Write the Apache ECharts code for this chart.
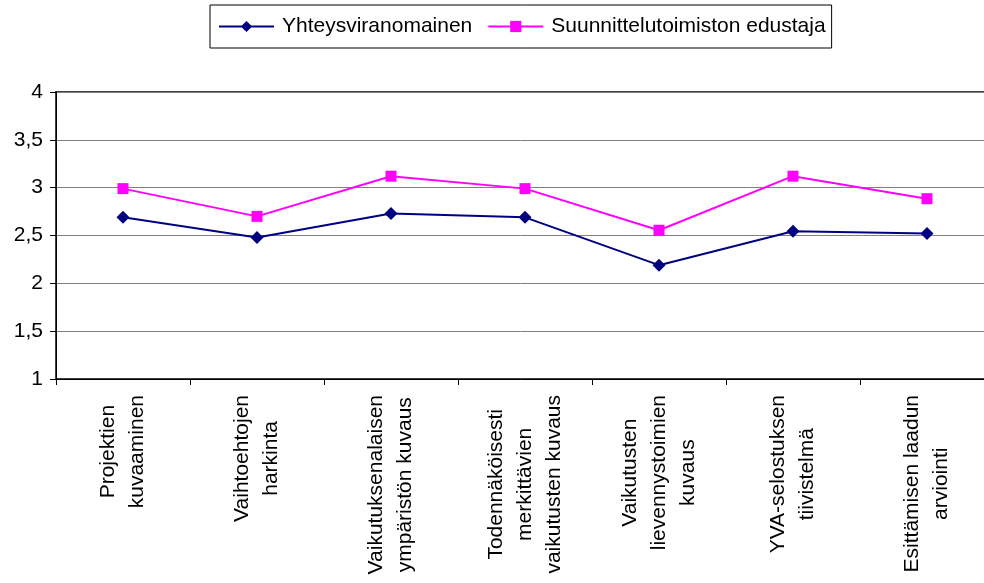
<!DOCTYPE html>
<html>
<head>
<meta charset="utf-8">
<script src="https://cdn.jsdelivr.net/npm/echarts@6/dist/echarts.min.js"></script>
<style>
html,body{margin:0;padding:0;background:#fff;}
#chart{width:984px;height:583px;}
</style>
</head>
<body>
<div id="chart"></div>
<script>
const categories = [
  'Projektien\nkuvaaminen',
  'Vaihtoehtojen\nharkinta',
  'Vaikutuksenalaisen\nympäristön kuvaus',
  'Todennäköisesti\nmerkittävien\nvaikutusten kuvaus',
  'Vaikutusten\nlievennystoimien\nkuvaus',
  'YVA-selostuksen\ntiivistelmä',
  'Esittämisen laadun\narviointi'
];
const seriesNames = ['Yhteysviranomainen', 'Suunnittelutoimiston edustaja'];
const yhteys = [2.69, 2.48, 2.73, 2.69, 2.19, 2.545, 2.52];
const suunnittelu = [2.99, 2.70, 3.12, 2.99, 2.555, 3.12, 2.885];
const yMin = 1, yMax = 4, yInterval = 0.5;

const FONT = "'Liberation Sans', Arial, sans-serif";
const chart = echarts.init(document.getElementById('chart'));
chart.setOption({
  animation: false,
  backgroundColor: '#fff',
  textStyle: { fontFamily: FONT },
  legend: {
    left: 210, top: 5,
    padding: [11, 6, 11, 8],
    borderColor: '#000', borderWidth: 1,
    itemWidth: 55, itemHeight: 14, itemGap: 15,
    textStyle: { fontSize: 21, color: '#000', fontFamily: FONT, padding: [0, 0, 0, 3] },
    data: seriesNames
  },
  grid: {
    left: 56, top: 92, width: 938, height: 287,
    outerBoundsMode: 'none', containLabel: false,
    show: true, borderColor: '#404040', borderWidth: 2, backgroundColor: 'transparent'
  },
  xAxis: {
    type: 'category',
    data: categories,
    boundaryGap: true,
    axisLine: { lineStyle: { color: '#000', width: 1 } },
    axisTick: { show: true, length: 6, lineStyle: { color: '#000' } },
    axisLabel: {
      rotate: 90, margin: 16, interval: 0, color: '#000',
      formatter: function (v) { return v.split('\n').map(function (l) { return '{c|' + l + '}'; }).join('\n'); },
      rich: { c: { align: 'center', fontSize: 21, lineHeight: 29, fontFamily: FONT, color: '#000' } }
    }
  },
  yAxis: {
    type: 'value', min: yMin, max: yMax, interval: yInterval,
    axisLine: { show: true, lineStyle: { color: '#000', width: 1 } },
    axisTick: { show: true, length: 6, lineStyle: { color: '#000' } },
    splitLine: { show: true, lineStyle: { color: '#808080', width: 1 } },
    axisLabel: {
      fontSize: 21, color: '#000', margin: 13, fontFamily: FONT,
      formatter: function (v) { return String(v).replace('.', ','); }
    }
  },
  series: [
    {
      name: seriesNames[0], type: 'line', data: yhteys,
      symbol: 'diamond', symbolSize: 13,
      lineStyle: { color: '#000080', width: 2 },
      itemStyle: { color: '#000080' }
    },
    {
      name: seriesNames[1], type: 'line', data: suunnittelu,
      symbol: 'rect', symbolSize: 11,
      lineStyle: { color: '#FF00FF', width: 2 },
      itemStyle: { color: '#FF00FF' }
    }
  ]
});
</script>
</body>
</html>
